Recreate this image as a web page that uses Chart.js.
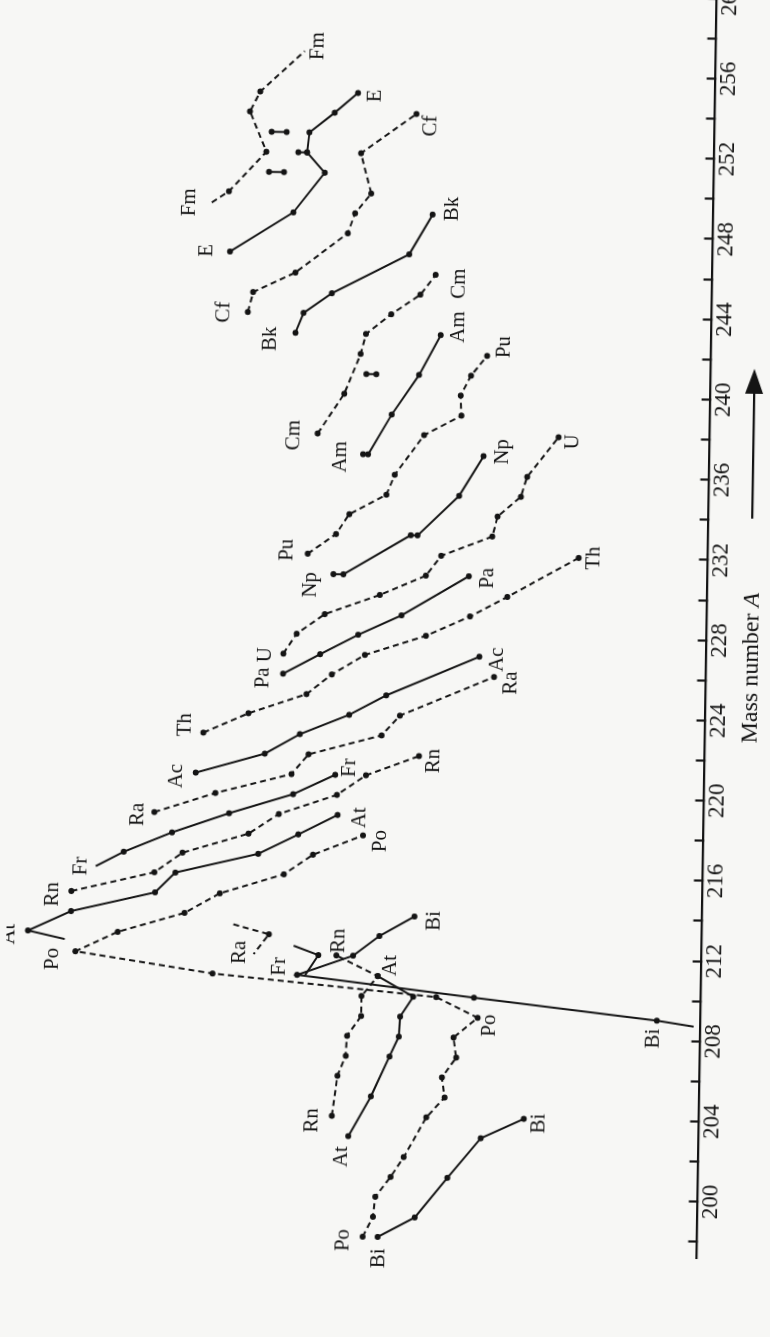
<!DOCTYPE html>
<html><head><meta charset="utf-8">
<script src="https://cdn.jsdelivr.net/npm/chart.js@4/dist/chart.umd.min.js"></script>
<style>
html,body{margin:0;padding:0;width:770px;height:1337px;overflow:hidden;background:#f7f7f5;}
#wrap{position:absolute;left:0;top:0;width:1417px;height:770px;transform-origin:0 0;transform:translate(0px,1337px) rotate(-89.09deg);}
canvas{display:block;}
</style></head><body>
<div id="wrap"><canvas id="c" width="1417" height="770"></canvas></div>
<script>
// Mass-number axis (ticks every 2, labels every 4)
const massMin = 197.2, massMax = 263.2, massStep = 2, massLabelEvery = 4;
const massTickValues = [198,200,202,204,206,208,210,212,214,216,218,220,222,224,226,228,230,232,234,236,238,240,242,244,246,248,250,252,254,256,258,260,262];
// Energy (MeV), hidden axis
const energyMin = 2.7, energyMax = 9.646;

// [mass number A, alpha energy] — odd Z solid, even Z dashed
const Bi_low  = [[198,5.90],[199,5.53],[201,5.21],[203,4.88],[204,4.45]];
const Bi_high = [[208.73,2.76],[209,3.13],[210,4.97],[211,6.75],[212,6.19],[213,5.93],[214,5.58]];
const Po      = [[198,6.05],[199,5.95],[200,5.93],[201,5.78],[202,5.65],[204,5.43],[205,5.25],[206,5.28],[207,5.14],[208,5.17],[209,4.93],[210,5.35],[211,7.60],[212,8.98],[213,8.56],[214,7.89],[215,7.54],[216,6.90],[217,6.61],[218,6.11]];
const At_low  = [[203,6.21],[205,5.99],[207,5.81],[208,5.72],[209,5.71],[210,5.58],[211,5.94]];
const At_high = [[212.6,9.09],[213,9.46],[214,9.03],[215,8.19],[216,7.99],[217,7.16],[218,6.76],[219,6.37]];
const Rn_low  = [[204,6.38],[206,6.33],[207,6.25],[208,6.24],[209,6.10],[210,6.10],[211,5.94],[212,6.36]];
const Rn_high = [[215,9.03],[216,8.20],[217,7.92],[218,7.26],[219,6.96],[220,6.38],[221,6.09],[222,5.56]];
const Fr_low  = [[212.45,6.79],[212,6.54],[211,6.67]];
const Fr_high = [[216.26,8.79],[217,8.51],[218,8.03],[219,7.46],[220,6.82],[221,6.40]];
const Ra_low  = [[213.47,7.40],[213,7.04],[212,7.19]];
const Ra_high = [[219,8.21],[220,7.60],[221,6.84],[222,6.67],[223,5.94],[224,5.76],[226,4.82]];
const Ac      = [[221,7.80],[222,7.11],[223,6.76],[224,6.27],[225,5.90],[227,4.97]];
const Th      = [[223,7.73],[224,7.28],[225,6.70],[226,6.45],[227,6.12],[228,5.51],[229,5.07],[230,4.70],[232,3.99]];
const Pa      = [[226,6.94],[227,6.57],[228,6.19],[229,5.76],[231,5.09]];
const U       = [[227,6.94],[228,6.81],[229,6.53],[230,5.98],[231,5.52],[232,5.37],[233,4.86],[234,4.81],[235,4.58],[236,4.52],[238,4.21]];
const Np      = [[231,6.45],[231,6.35],[233,5.68],[233,5.61],[235,5.20],[237,4.96]];
const Pu      = [[232,6.71],[233,6.43],[234,6.30],[235,5.93],[236,5.85],[238,5.56],[239,5.19],[240,5.20],[241,5.10],[242,4.94]];
const Am      = [[237,6.17],[237,6.12],[239,5.89],[241,5.62],[243,5.41]];
const Cm      = [[238,6.63],[240,6.37],[242,6.21],[243,6.16],[244,5.91],[245,5.62],[246,5.47]];
const Bk      = [[243,6.87],[244,6.79],[245,6.51],[247,5.74],[249,5.51]];
const Cf      = [[244,7.35],[245,7.30],[246,6.88],[248,6.36],[249,6.29],[250,6.13],[252,6.24],[254,5.69]];
const Es      = [[247,7.54],[249,6.91],[251,6.60],[252,6.78],[253,6.76],[254,6.51],[255,6.28]];
const Fm      = [[249.43,7.73],[250,7.56],[252,7.19],[254,7.36],[255,7.26],[257.05,6.82]];
// paired values at one mass number
const Fm251 = [[251,7.16],[251,7.01]];
const Fm253 = [[253,7.14],[253,6.99]];
const Cm241 = [[241,6.15],[241,6.05]];
const Es252 = [[252,6.87],[252,6.78]];

// element labels: [text, A, E]
const elementLabels = [
  ['Fm',257.31,6.69],['Fm',249.42,7.95],['E',254.87,6.11],['E',247.03,7.77],
  ['Cf',253.42,5.54],['Cf',243.97,7.59],['Bk',249.29,5.31],['Bk',242.68,7.12],
  ['Cm',245.57,5.23],['Cm',237.9,6.87],['Am',243.41,5.23],['Am',236.85,6.40],
  ['Pu',242.45,4.77],['Pu',232.17,6.92],['Np',237.23,4.77],['Np',230.45,6.68],
  ['U',237.78,4.07],['U',226.93,7.12],['Pa',225.77,7.14],['Pa',230.92,4.90],
  ['Th',232.0,3.84],['Th',223.38,7.91],['Ac',226.87,4.79],['Ac',220.81,7.99],
  ['Ra',225.71,4.65],['Ra',218.87,8.38],['Fr',221.36,6.26],['Fr',216.25,8.94],
  ['Rn',221.76,5.41],['Rn',214.82,9.22],['At',218.88,6.15],['At',212.8,9.65],
  ['Po',217.73,5.94],['Po',211.6,9.21],['Ra',212.07,7.33],['Fr',211.4,6.93],
  ['Rn',212.73,6.34],['At',211.53,5.81],['Bi',213.8,5.38],['Po',208.62,4.81],
  ['Bi',208.1,3.16],['Rn',203.75,6.58],['At',201.97,6.28],['Po',197.81,6.25],
  ['Bi',196.93,5.88],['Bi',203.77,4.30]
];
const axisTitle = 'Mass number ', axisTitleItalic = 'A', axisTitleMass = 226.65;
const arrowFrom = 234.1, arrowTo = 241.57;

const INK = '#141414';
const SERIF = '"Liberation Serif", "DejaVu Serif", serif';
function series(data, dashed, bare) {
  bare = bare || [];
  return {
    data: data.map(p => ({x: p[0], y: p[1]})),
    showLine: true, borderColor: INK, backgroundColor: INK,
    borderWidth: 2, borderDash: dashed ? [6, 4] : [],
    pointRadius: ctx => bare.includes(ctx.dataIndex) ? 0 : 3,
    pointHoverRadius: 0, pointBorderWidth: 0, tension: 0
  };
}
const datasets = [
  series(Bi_low,false), series(Bi_high,false,[0]), series(Po,true),
  series(At_low,false), series(At_high,false,[0]), series(Rn_low,true), series(Rn_high,true),
  series(Fr_low,false,[0,2]), series(Fr_high,false,[0]), series(Ra_low,true,[0,2]), series(Ra_high,true),
  series(Ac,false), series(Th,true), series(Pa,false), series(U,true), series(Np,false),
  series(Pu,true), series(Am,false), series(Cm,true), series(Bk,false), series(Cf,true),
  series(Es,false), series(Fm,true,[0,5]),
  series(Fm251,false), series(Fm253,false), series(Cm241,false), series(Es252,false)
];

const annot = {
  id: 'annot',
  afterDraw(chart) {
    const {ctx, scales: {x, y}} = chart;
    ctx.save();
    ctx.fillStyle = INK;
    ctx.textAlign = 'center';
    ctx.textBaseline = 'middle';
    // element labels
    ctx.font = '21px ' + SERIF;
    elementLabels.forEach(l => ctx.fillText(l[0], x.getPixelForValue(l[1]), y.getPixelForValue(l[2])));
    // axis title with italic A
    const ty = x.top + 46;
    ctx.font = '24px ' + SERIF;
    const w1 = ctx.measureText(axisTitle).width;
    ctx.font = 'italic 24px ' + SERIF;
    const w2 = ctx.measureText(axisTitleItalic).width;
    const cx = x.getPixelForValue(axisTitleMass);
    const sx = cx - (w1 + w2) / 2;
    ctx.textAlign = 'left';
    ctx.font = '24px ' + SERIF;
    ctx.fillText(axisTitle, sx, ty);
    ctx.font = 'italic 24px ' + SERIF;
    ctx.fillText(axisTitleItalic, sx + w1, ty);
    // arrow
    const ay = x.top + 44.5;
    const x0 = x.getPixelForValue(arrowFrom), x1 = x.getPixelForValue(arrowTo);
    ctx.strokeStyle = INK; ctx.lineWidth = 2.2;
    ctx.beginPath(); ctx.moveTo(x0, ay); ctx.lineTo(x1 - 20, ay); ctx.stroke();
    ctx.beginPath(); ctx.moveTo(x1, ay); ctx.lineTo(x1 - 25, ay - 9); ctx.lineTo(x1 - 25, ay + 9); ctx.closePath(); ctx.fill();
    ctx.restore();
  }
};

new Chart(document.getElementById('c'), {
  type: 'scatter',
  data: {datasets},
  options: {
    responsive: false, animation: false, devicePixelRatio: 1,
    layout: {padding: {left: 90, top: 0, right: 0, bottom: 0}},
    plugins: {legend: {display: false}, tooltip: {enabled: false}},
    scales: {
      x: {
        type: 'linear', position: 'bottom', min: massMin, max: massMax,
        border: {display: true, color: INK, width: 2.2},
        grid: {display: true, drawOnChartArea: false, drawTicks: true, tickLength: -8, tickWidth: 2.2, tickColor: INK},
        afterBuildTicks: s => { s.ticks = massTickValues.map(v => ({value: v})); },
        ticks: {
          autoSkip: false, maxRotation: 0, minRotation: 0, padding: 9,
          color: INK, font: {family: SERIF, size: 23},
          callback: v => (v % massLabelEvery === 0 ? String(v) : '')
        },
        afterFit: s => { s.height = 75.4; }
      },
      y: {type: 'linear', display: false, min: energyMin, max: energyMax}
    }
  },
  plugins: [annot]
});
</script>
</body></html>
